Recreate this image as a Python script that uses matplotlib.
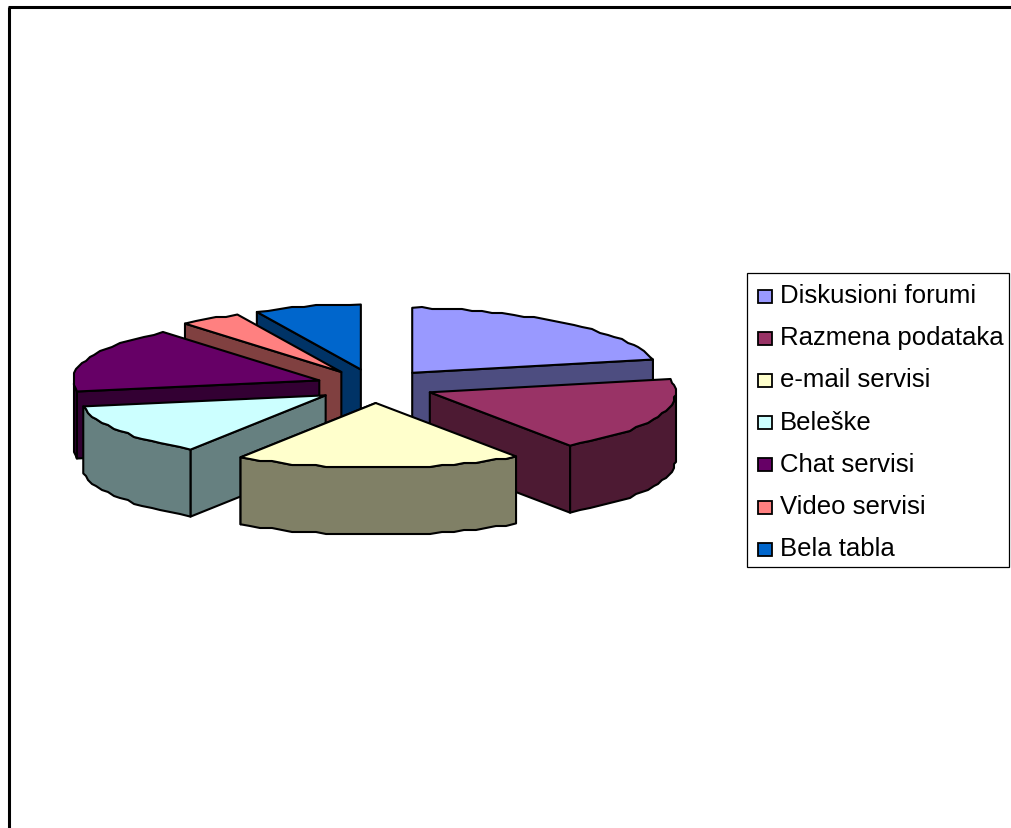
import numpy as np
import matplotlib
matplotlib.use("Agg")
import matplotlib.pyplot as plt
from matplotlib.patches import Polygon, Rectangle

plt.rcParams["font.family"] = ["Liberation Sans", "DejaVu Sans"]

labels = ["Diskusioni forumi", "Razmena podataka", "e-mail servisi", "Beleške",
          "Chat servisi", "Video servisi", "Bela tabla"]
values = [21.7, 18.6, 18.9, 13.0, 16.1, 3.9, 7.7]
top_colors = ["#9999FF", "#993366", "#FFFFCC", "#CCFFFF", "#660066", "#FF8080", "#0066CC"]
side_colors = ["#4D4D80", "#4D1A33", "#808066", "#668080", "#330033", "#804040", "#003366"]

# pie geometry, in pixels
cx, cy = 375, 387
rx, ry = 246, 65
ex, ey = 59, 17
depth = 67

fig = plt.figure(figsize=(10.12, 8.29), dpi=100)
ax = fig.add_axes([0, 0, 1, 1])
ax.set_xlim(0, 1012)
ax.set_ylim(829, 0)
ax.axis("off")

ax.plot([9, 9], [829, 8], color="black", lw=2.2, solid_capstyle="butt")
ax.plot([8, 1012], [8, 8], color="black", lw=2.2, solid_capstyle="butt")

fracs = np.array(values) / sum(values)
edges = np.concatenate([[0], np.cumsum(fracs)]) * 2 * np.pi


def poly(pts, color, z):
    ax.add_patch(Polygon(pts, closed=True, facecolor=color, edgecolor="black",
                         lw=1.5, joinstyle="round", zorder=z))


# back slices first, front ones last
order = [6, 5, 4, 0, 3, 1, 2]
for z, i in enumerate(order):
    a0, a1 = edges[i], edges[i + 1]
    mid = (a0 + a1) / 2
    ax0 = cx + ex * np.sin(mid)
    ay0 = cy - ey * np.cos(mid)
    t = np.linspace(a0, a1, max(6, int((a1 - a0) * 22)))
    # back of the pie is a bit narrower, perspective
    scale = 1 - 0.15 * np.clip(np.cos(t), 0, None) ** 4
    arc = np.column_stack([ax0 + rx * scale * np.sin(t), ay0 - ry * np.cos(t)])
    arc[1:-1] = np.round(arc[1:-1] / 2) * 2  # slightly wavy edge like the low res original
    apex = np.array([ax0, ay0])
    down = np.array([0, depth])
    base = z * 10
    # cut face that looks at the viewer
    end = arc[-1] if np.sin(mid) > 0 else arc[0]
    poly([apex, end, end + down, apex + down], side_colors[i], base + 1)
    # outer wall, front part only
    keep = np.cos(t) < 0
    if keep.any():
        wall = arc[keep]
        poly(np.vstack([wall, (wall + down)[::-1]]), side_colors[i], base + 2)
    poly(np.vstack([apex, arc]), top_colors[i], base + 3)

# legend
ax.add_patch(Rectangle((747.5, 273.5), 262, 294, facecolor="white", edgecolor="black",
                       lw=0.9, zorder=100))
for i, name in enumerate(labels):
    y = 297 + 42.2 * i
    ax.add_patch(Rectangle((758, y - 6.5), 14, 13, facecolor=top_colors[i], edgecolor="black",
                           lw=1.3, zorder=101))
    ax.text(780, y - 1, name, fontsize=18.5, va="center", ha="left", zorder=101)

fig.savefig("out.png", dpi=100)
